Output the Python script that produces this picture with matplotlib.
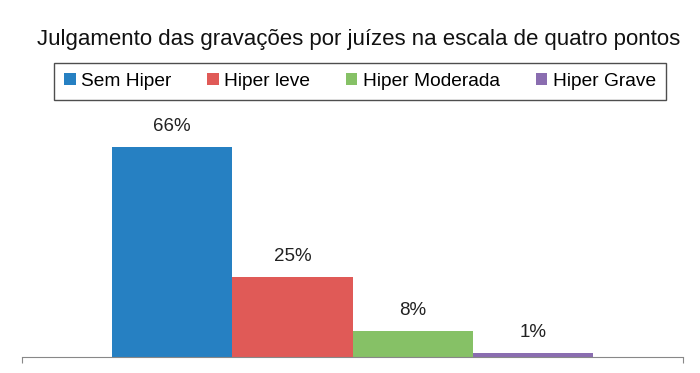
import matplotlib.pyplot as plt
from matplotlib.patches import Patch

plt.rcParams['font.family'] = ['Liberation Sans', 'DejaVu Sans']

# data
categorias = ['Sem Hiper', 'Hiper leve', 'Hiper Moderada', 'Hiper Grave']
percentuais = [66, 25, 8, 1]
cores = ['#2680C2', '#E05A57', '#86C166', '#8A6DB0']
titulo = 'Julgamento das gravações por juízes na escala de quatro pontos'

fig = plt.figure(figsize=(7, 3.73), dpi=100)
ax = fig.add_axes([22 / 700, 16.5 / 373, 661 / 700, 236 / 373])

pos = list(range(len(percentuais)))
ax.bar(pos, percentuais, width=1.0, color=cores, edgecolor='none')

for p, v in zip(pos, percentuais):
    ax.text(p, v + 3.8, f'{v}%', ha='center', va='bottom', fontsize=13.5, color='#222222')

xmin, xmax = -1.25, 4.25
ax.set_xlim(xmin, xmax)
ax.set_ylim(0, 74.4)

# only the baseline with little end ticks
for s in ['top', 'right', 'left']:
    ax.spines[s].set_visible(False)
ax.spines['bottom'].set_color('#888888')
ax.set_yticks([])
ax.set_xticks([xmin, xmax])
ax.set_xticklabels([])
ax.tick_params(axis='x', direction='out', length=4.5, color='#888888')

fig.text(358.5 / 700, 1 - 39 / 373, titulo, ha='center', va='center', fontsize=16, color='#111111')

handles = [Patch(facecolor=c, edgecolor='none') for c in cores]
leg = fig.legend(handles, categorias, loc='center', bbox_to_anchor=(360 / 700, 1 - 81.5 / 373),
                 ncol=4, fontsize=13.8, frameon=True, fancybox=False, handlelength=0.6,
                 handleheight=0.6, handletextpad=0.3, columnspacing=1.85, borderpad=0.5)
leg.get_frame().set_edgecolor('#222222')
leg.get_frame().set_linewidth(1.0)

fig.savefig('out.png', dpi=100, facecolor='white')
